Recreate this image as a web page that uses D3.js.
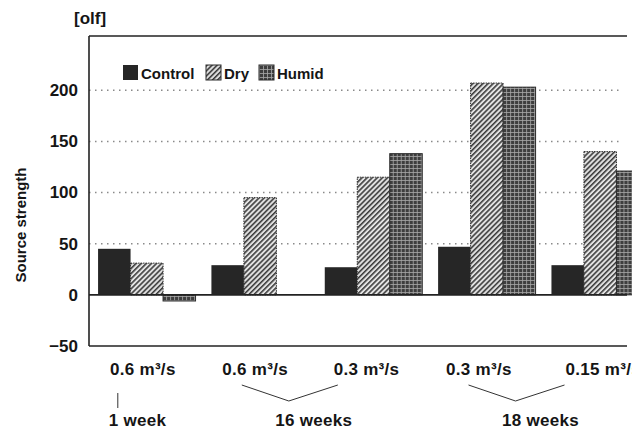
<!DOCTYPE html>
<html>
<head>
<meta charset="utf-8">
<script src="https://cdn.jsdelivr.net/npm/d3@7"></script>
<style>
  body { margin: 0; background: #fff; }
  text { font-family: "Liberation Sans", Arial, sans-serif; font-weight: bold; fill: #151515; }
</style>
</head>
<body>
<div id="chart"></div>
<script>
// flow rate per measuring case
const categories = ["0.6 m³/s", "0.6 m³/s", "0.3 m³/s", "0.3 m³/s", "0.15 m³/s"];
const series = ["Control", "Dry", "Humid"];
const control = [45, 29, 27, 47, 29];
const dry = [31, 95, 115, 207, 140];
const humid = [-6, null, 138, 203, 121];
const yTicks = [-50, 0, 50, 100, 150, 200];
// periods, with the first and last case they cover
const periods = ["1 week", "16 weeks", "18 weeks"];
const periodSpan = [[0, 0], [1, 2], [3, 4]];

const width = 632, height = 432;
const plotLeft = 89, plotTop = 36, plotBottom = 346, plotRight = 627;

const svg = d3.select("#chart").append("svg")
    .attr("width", width)
    .attr("height", height);

// patterns for the bars (scan look)
const defs = svg.append("defs");
const hatch = defs.append("pattern")
    .attr("id", "hatch")
    .attr("patternUnits", "userSpaceOnUse")
    .attr("width", 3.6).attr("height", 3.6)
    .attr("patternTransform", "rotate(45)");
hatch.append("rect").attr("width", 3.6).attr("height", 3.6).attr("fill", "#e2e2e2");
hatch.append("line").attr("x1", 0.8).attr("y1", 0).attr("x2", 0.8).attr("y2", 3.6)
    .attr("stroke", "#262626").attr("stroke-width", 1.4);

const grid = defs.append("pattern")
    .attr("id", "grid")
    .attr("patternUnits", "userSpaceOnUse")
    .attr("width", 4).attr("height", 4);
grid.append("rect").attr("width", 4).attr("height", 4).attr("fill", "#3e3e3e");
grid.append("line").attr("x1", 0).attr("y1", 0.5).attr("x2", 4).attr("y2", 0.5)
    .attr("stroke", "#a8a8a8").attr("stroke-width", 0.8);
grid.append("line").attr("x1", 0.5).attr("y1", 0).attr("x2", 0.5).attr("y2", 4)
    .attr("stroke", "#a8a8a8").attr("stroke-width", 0.8);

const fills = { Control: "#262626", Dry: "url(#hatch)", Humid: "url(#grid)" };

// scales
const y = d3.scaleLinear().domain([-50, 253]).range([plotBottom, plotTop]);
const x0 = d3.scaleBand().domain(d3.range(categories.length))
    .range([plotLeft, 658]).paddingInner(0.14).paddingOuter(0.08);
const x1 = d3.scaleBand().domain(series).range([0, x0.bandwidth()]);

// dotted grid lines
svg.append("g").selectAll("line")
    .data(yTicks.filter(d => d > 0))
    .enter().append("line")
    .attr("x1", plotLeft).attr("x2", 623)
    .attr("y1", d => y(d)).attr("y2", d => y(d))
    .attr("stroke", "#8a8a8a")
    .attr("stroke-width", 1.5)
    .attr("stroke-dasharray", "1.5,4.5");

// y axis
const yAxis = svg.append("g")
    .attr("transform", "translate(" + plotLeft + ",0)")
    .call(d3.axisLeft(y).tickValues(yTicks).tickSize(0).tickPadding(11));
yAxis.select(".domain").remove();
yAxis.selectAll("text")
    .style("font-size", "17px")
    .style("font-family", "'Liberation Sans', Arial, sans-serif")
    .style("font-weight", "bold")
    .attr("fill", "#151515");

// bars
const rows = categories.map((c, i) => ({ i: i, Control: control[i], Dry: dry[i], Humid: humid[i] }));
svg.append("g").selectAll("g")
    .data(rows)
    .enter().append("g")
    .attr("transform", d => "translate(" + x0(d.i) + ",0)")
    .selectAll("rect")
    .data(d => series.map(s => ({ key: s, value: d[s] })).filter(d => d.value !== null))
    .enter().append("rect")
    .attr("x", d => x1(d.key))
    .attr("width", x1.bandwidth())
    .attr("y", d => y(Math.max(0, d.value)))
    .attr("height", d => Math.abs(y(d.value) - y(0)))
    .attr("fill", d => fills[d.key])
    .attr("stroke", d => d.key === "Control" ? "none" : "#2b2b2b")
    .attr("stroke-width", 1)
    .attr("stroke-dasharray", d => d.key === "Dry" ? "1.5,1" : null);

// frame and zero line
const axisLines = [
    [plotLeft, plotTop, plotRight, plotTop],
    [plotLeft, plotTop, plotLeft, plotBottom],
    [plotLeft, plotBottom, plotRight, plotBottom],
    [plotLeft, y(0), plotRight, y(0)]
];
svg.append("g").selectAll("line")
    .data(axisLines)
    .enter().append("line")
    .attr("x1", d => d[0]).attr("y1", d => d[1])
    .attr("x2", d => d[2]).attr("y2", d => d[3])
    .attr("stroke", "#222")
    .attr("stroke-width", 1.6);

// unit and axis title
svg.append("text")
    .attr("x", 74).attr("y", 24)
    .style("font-size", "17px")
    .text("[olf]");

svg.append("text")
    .attr("transform", "translate(26," + 225 + ") rotate(-90)")
    .attr("text-anchor", "middle")
    .style("font-size", "15px")
    .text("Source strength");

// legend
const legend = svg.append("g").attr("transform", "translate(123,65)");
const legendX = [0, 83, 136];
series.forEach((s, i) => {
    const item = legend.append("g").attr("transform", "translate(" + legendX[i] + ",0)");
    item.append("rect")
        .attr("width", 15).attr("height", 15)
        .attr("fill", fills[s])
        .attr("stroke", s === "Control" ? "none" : "#2b2b2b")
        .attr("stroke-width", 1);
    item.append("text")
        .attr("x", 18).attr("y", 14)
        .style("font-size", "15px")
        .text(s);
});

// flow labels under the cases (the last one runs off the page, as in the scan)
const labelDx = [-4, -5, -7, -8, 3];
const center = i => x0(i) + x0.bandwidth() / 2;
svg.append("g").selectAll("text")
    .data(categories)
    .enter().append("text")
    .attr("x", (d, i) => center(i) + labelDx[i])
    .attr("y", 375)
    .attr("text-anchor", "middle")
    .style("font-size", "17px")
    .style("letter-spacing", "0.3px")
    .text(d => d);

// period brackets
periodSpan.forEach((span, k) => {
    const mid = (center(span[0]) + center(span[1])) / 2;
    const g = svg.append("g");
    if (span[0] === span[1]) {
        g.append("line")
            .attr("x1", mid - 29).attr("x2", mid - 29)
            .attr("y1", 393).attr("y2", 408)
            .attr("stroke", "#333").attr("stroke-width", 1);
        g.append("text")
            .attr("x", mid - 38).attr("y", 426)
            .style("font-size", "17px")
            .style("letter-spacing", "0.3px")
            .text(periods[k]);
    } else {
        g.append("polyline")
            .attr("points", [[mid - 75, 385], [mid - 28, 401], [mid + 21, 385]].join(" "))
            .attr("fill", "none")
            .attr("stroke", "#333").attr("stroke-width", 1);
        g.append("text")
            .attr("x", mid - 3).attr("y", 426)
            .attr("text-anchor", "middle")
            .style("font-size", "17px")
            .style("letter-spacing", "0.3px")
            .text(periods[k]);
    }
});
</script>
</body>
</html>
